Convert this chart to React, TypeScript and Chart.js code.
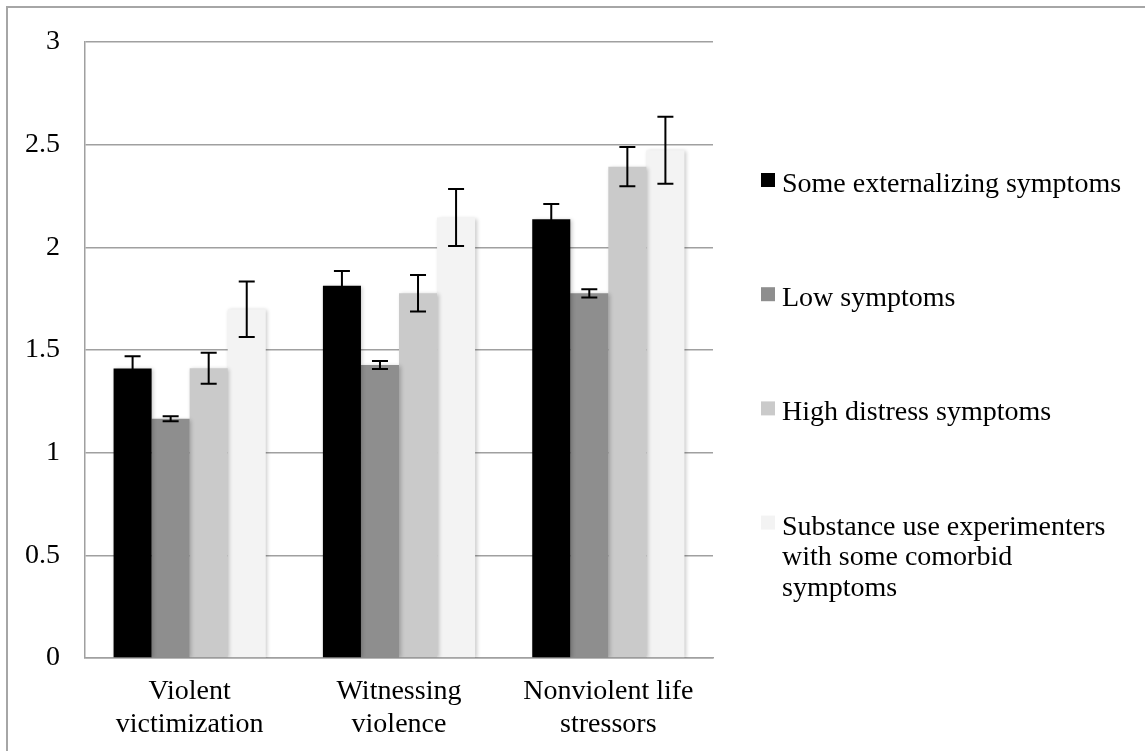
import React, { useEffect, useRef } from 'react';
import { Chart, registerables } from 'chart.js';

Chart.register(...registerables);

const categories: string[][] = [
  ['Violent', 'victimization'],
  ['Witnessing', 'violence'],
  ['Nonviolent life', 'stressors'],
];

const seriesNames = [
  'Some externalizing symptoms',
  'Low symptoms',
  'High distress symptoms',
  'Substance use experimenters with some comorbid symptoms',
];

// legend text as it is broken into lines in the reference
const seriesLegendLines: string[][] = [
  ['Some externalizing symptoms'],
  ['Low symptoms'],
  ['High distress symptoms'],
  ['Substance use experimenters', 'with some comorbid', 'symptoms'],
];

const someExternalizing = [1.41, 1.813, 2.137];
const lowSymptoms = [1.165, 1.427, 1.776];
const highDistress = [1.411, 1.776, 2.393];
const substanceUse = [1.698, 2.145, 2.473];

const someExternalizingErr = [0.06, 0.072, 0.074];
const lowSymptomsErr = [0.012, 0.019, 0.02];
const highDistressErr = [0.075, 0.089, 0.096];
const substanceUseErr = [0.135, 0.139, 0.163];

const yMin = 0;
const yMax = 3;
const yStep = 0.5;

const seriesColors = ['#000000', '#8e8e8e', '#cacaca', '#f3f3f3'];

const FONT = '"Liberation Serif", "Times New Roman", serif';

const errorsBySeries = [someExternalizingErr, lowSymptomsErr, highDistressErr, substanceUseErr];

const decorPlugin = {
  id: 'decor',
  beforeDatasetsDraw(chart: any) {
    const ctx = chart.ctx;
    ctx.save();
    ctx.shadowColor = 'rgba(0,0,0,0.22)';
    ctx.shadowBlur = 4;
    ctx.shadowOffsetX = 1.5;
    ctx.shadowOffsetY = 1;
  },
  afterDatasetsDraw(chart: any) {
    const ctx = chart.ctx;
    ctx.restore();
    const yScale = chart.scales.y;
    ctx.save();
    ctx.strokeStyle = '#000';
    ctx.lineWidth = 2;
    chart.data.datasets.forEach((ds: any, di: number) => {
      const meta = chart.getDatasetMeta(di);
      const errs = errorsBySeries[di];
      meta.data.forEach((bar: any, i: number) => {
        const v = ds.data[i];
        const e = errs[i];
        const x = bar.x;
        const yTop = yScale.getPixelForValue(v + e);
        const yBot = yScale.getPixelForValue(v - e);
        const cap = 8;
        ctx.beginPath();
        ctx.moveTo(x, yTop);
        ctx.lineTo(x, yBot);
        ctx.moveTo(x - cap, yTop);
        ctx.lineTo(x + cap, yTop);
        ctx.moveTo(x - cap, yBot);
        ctx.lineTo(x + cap, yBot);
        ctx.stroke();
      });
    });
    ctx.restore();
  },
  afterDraw(chart: any) {
    const ctx = chart.ctx;
    ctx.save();
    ctx.font = `28px ${FONT}`;
    ctx.textBaseline = 'alphabetic';
    ctx.textAlign = 'left';
    const boxX = 761;
    const textX = 782;
    const firstBaseline = 192;
    const itemGap = 114.2;
    const lineH = 30.5;
    chart.data.datasets.forEach((ds: any, i: number) => {
      const baseline = firstBaseline + i * itemGap;
      ctx.fillStyle = ds.backgroundColor;
      ctx.fillRect(boxX, baseline - 19, 14, 14);
      ctx.fillStyle = '#000';
      const lines = seriesLegendLines[i];
      lines.forEach((ln, k) => ctx.fillText(ln, textX, baseline + k * lineH));
    });
    ctx.restore();
  },
};

export default function App() {
  const canvasRef = useRef<HTMLCanvasElement | null>(null);

  useEffect(() => {
    if (!canvasRef.current) return;
    const seriesData = [someExternalizing, lowSymptoms, highDistress, substanceUse];
    const chart = new Chart(canvasRef.current, {
      type: 'bar',
      data: {
        labels: categories,
        datasets: seriesData.map((d, i) => ({
          label: seriesNames[i],
          data: d,
          backgroundColor: seriesColors[i],
          borderWidth: 0,
          categoryPercentage: 0.727,
          barPercentage: 1.0,
        })),
      },
      options: {
        animation: false,
        responsive: false,
        maintainAspectRatio: false,
        layout: { padding: { left: 0, top: 42, right: 432, bottom: 0 } },
        plugins: {
          legend: { display: false },
          tooltip: { enabled: false },
          title: { display: false },
        },
        scales: {
          x: {
            grid: { display: false, drawTicks: false },
            border: { display: true, color: '#a0a0a0', width: 1.5 },
            ticks: {
              color: '#000',
              font: { family: FONT, size: 28, lineHeight: 1.15 },
              padding: 18,
              maxRotation: 0,
              autoSkip: false,
            },
            afterFit(scale: any) {
              scale.height = 93;
            },
          },
          y: {
            min: yMin,
            max: yMax,
            grid: { color: '#a0a0a0', lineWidth: 1.5, drawTicks: false },
            border: { display: true, color: '#a0a0a0', width: 1.5 },
            ticks: {
              stepSize: yStep,
              color: '#000',
              font: { family: FONT, size: 28 },
              padding: 25,
              callback: (v: any) => String(Number(v)),
            },
            afterFit(scale: any) {
              scale.width = 85;
            },
          },
        },
      },
      plugins: [decorPlugin],
    });
    return () => chart.destroy();
  }, []);

  return (
    <div style={{ position: 'fixed', left: 0, top: 0, width: 1145, height: 751, background: '#fff' }}>
      <div
        style={{
          position: 'absolute',
          left: 6,
          top: 6,
          width: 1145,
          height: 751,
          borderLeft: '2px solid #a6a6a6',
          borderTop: '2px solid #a6a6a6',
          boxSizing: 'border-box',
        }}
      />
      <canvas
        ref={canvasRef}
        width={1145}
        height={751}
        style={{ position: 'absolute', left: 0, top: 0, width: 1145, height: 751 }}
      />
    </div>
  );
}
